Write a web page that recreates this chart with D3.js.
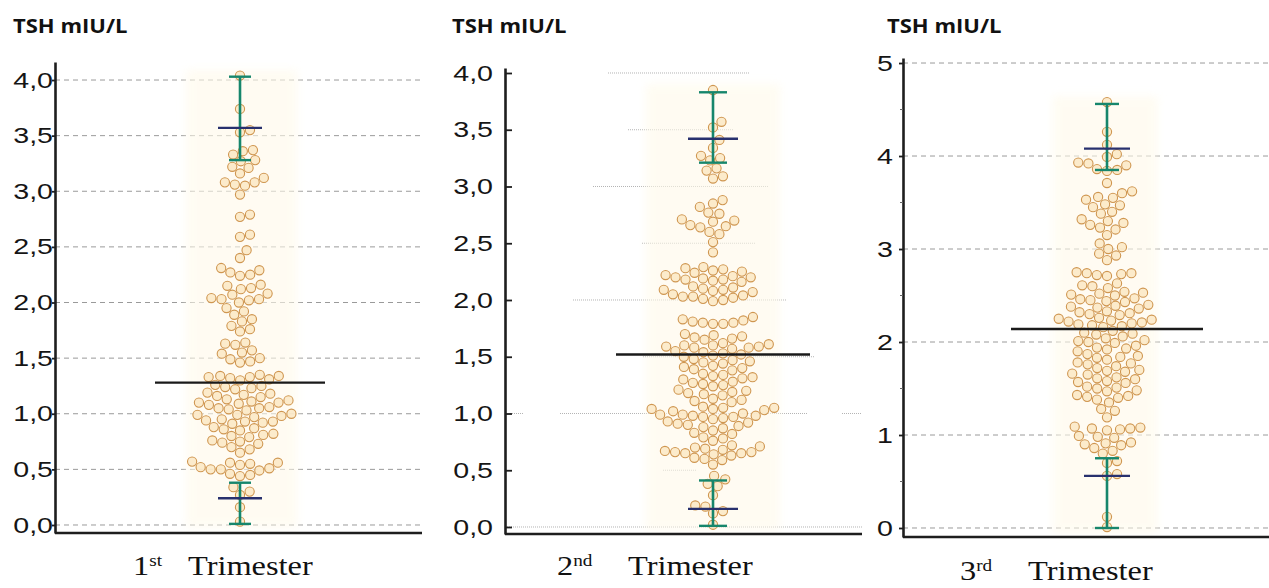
<!DOCTYPE html>
<html><head><meta charset="utf-8">
<script src="https://cdn.jsdelivr.net/npm/d3@7"></script>
<style>body{margin:0;background:#fff}svg{display:block}</style>
</head><body>
<svg id="chart" width="1269" height="588"></svg>
<script>
// ---------------- data ----------------
const trimesterNumbers = ["1", "2", "3"];
const trimesterSuffix = ["st", "nd", "rd"];
const axisTitle = "TSH mIU/L";

const tsh1 = [4.04, 3.74, 3.55, 3.53,
  3.37, 3.36, 3.33, 3.28, 3.27, 3.22, 3.21, 3.16, 3.12, 3.08, 3.08, 3.06, 3.05, 2.97,
  2.79, 2.77, 2.61, 2.59, 2.47, 2.40,
  2.31, 2.29, 2.27, 2.25, 2.24, 2.16, 2.15, 2.13, 2.12, 2.08, 2.07,
  2.04, 2.03, 2.03, 2.02, 2.00, 1.95, 1.92, 1.89, 1.85, 1.83, 1.79, 1.76, 1.74,
  1.64, 1.63, 1.62, 1.57, 1.55, 1.54, 1.50, 1.49, 1.47, 1.46,
  1.35, 1.34, 1.34, 1.33, 1.33, 1.32, 1.31, 1.30,
  1.26, 1.25, 1.24, 1.23, 1.22,
  1.19, 1.18, 1.17, 1.16, 1.15, 1.13,
  1.12, 1.11, 1.10, 1.10, 1.09, 1.08,
  1.06, 1.05, 1.05, 1.04, 1.03,
  1.00, 0.99, 0.99, 0.98, 0.97,
  0.95, 0.94, 0.93, 0.93, 0.92, 0.91,
  0.88, 0.87, 0.86, 0.85,
  0.82, 0.81, 0.80, 0.79,
  0.76, 0.75, 0.74, 0.73,
  0.70, 0.68, 0.65,
  0.57, 0.56, 0.56, 0.55, 0.54,
  0.52, 0.51, 0.50, 0.50, 0.49,
  0.46, 0.45, 0.44,
  0.34, 0.30, 0.27, 0.16, 0.03];

const tsh2 = [3.85, 3.57, 3.52, 3.41, 3.34, 3.27, 3.25, 3.23, 3.16, 3.14, 3.09, 3.07,
  2.88, 2.85, 2.82, 2.77, 2.76, 2.71, 2.70, 2.69, 2.66, 2.65, 2.64, 2.60, 2.58, 2.51, 2.42,
  2.29, 2.28, 2.27, 2.26, 2.25, 2.24, 2.22,
  2.21, 2.20, 2.20, 2.19, 2.18, 2.18, 2.17, 2.16,
  2.12, 2.11, 2.10, 2.09, 2.09, 2.08, 2.07,
  2.05, 2.04, 2.03, 2.03, 2.02, 2.01, 2.00, 1.99,
  1.85, 1.83, 1.82, 1.81, 1.80, 1.80, 1.79, 1.79,
  1.70, 1.69, 1.68, 1.67, 1.66, 1.65,
  1.62, 1.61, 1.60, 1.60, 1.59, 1.59, 1.58, 1.58, 1.57,
  1.55, 1.54, 1.53, 1.52, 1.51, 1.50,
  1.48, 1.47, 1.46, 1.45, 1.44,
  1.42, 1.41, 1.40, 1.39, 1.38,
  1.35, 1.34, 1.33, 1.32, 1.31, 1.30,
  1.28, 1.27, 1.26, 1.25, 1.24,
  1.21, 1.20, 1.19, 1.18, 1.17, 1.16,
  1.13, 1.12, 1.11, 1.10,
  1.06, 1.05, 1.05, 1.04, 1.04, 1.03, 1.02,
  1.00, 0.99, 0.99, 0.98, 0.98, 0.97, 0.97, 0.96, 0.95,
  0.93, 0.92, 0.91, 0.90, 0.89, 0.88, 0.87,
  0.85, 0.83, 0.82, 0.79, 0.78, 0.76, 0.72, 0.71, 0.70,
  0.69, 0.68, 0.67, 0.66, 0.66, 0.65, 0.65, 0.64, 0.63,
  0.61, 0.60, 0.59, 0.55,
  0.45, 0.42, 0.38, 0.36, 0.28, 0.19, 0.18, 0.14, 0.12, 0.02];

const tsh3 = [4.58, 4.26, 4.12, 4.02, 3.99, 3.93, 3.92, 3.90, 3.86, 3.85, 3.84,
  3.71, 3.62, 3.60, 3.56, 3.55, 3.53, 3.48, 3.47, 3.45, 3.40, 3.38, 3.32, 3.30, 3.28, 3.26,
  3.23, 3.21, 3.15, 3.06, 3.02, 3.00, 2.95, 2.93, 2.88,
  2.75, 2.74, 2.74, 2.73, 2.72, 2.71, 2.63, 2.61, 2.60, 2.58,
  2.54, 2.53, 2.52, 2.51, 2.50,
  2.47, 2.46, 2.45, 2.44, 2.43,
  2.40, 2.39, 2.38, 2.37, 2.36,
  2.33, 2.32, 2.31, 2.30, 2.29,
  2.26, 2.25, 2.24, 2.23,
  2.22, 2.21, 2.20, 2.19, 2.18, 2.17, 2.16,
  2.12, 2.10, 2.09, 2.08, 2.06,
  2.04, 2.02, 2.01, 2.00, 1.99,
  1.96, 1.94, 1.93, 1.92, 1.90,
  1.87, 1.85, 1.84, 1.83, 1.81,
  1.78, 1.77, 1.76, 1.74, 1.72,
  1.70, 1.69, 1.68, 1.66, 1.65,
  1.62, 1.61, 1.60, 1.58, 1.57, 1.56,
  1.52, 1.51, 1.50, 1.48, 1.47,
  1.43, 1.42, 1.41, 1.40, 1.38, 1.35,
  1.28, 1.26, 1.19,
  1.09, 1.08, 1.07, 1.07, 1.06, 1.05,
  0.99, 0.98, 0.97, 0.92, 0.91, 0.90, 0.89, 0.86, 0.83, 0.80,
  0.72, 0.70, 0.58, 0.56, 0.12, 0.01];

const means = [1.28, 1.52, 2.14];
const p025 = [0.24, 0.16, 0.56];
const p975 = [3.57, 3.42, 4.08];
const ciP025 = [[0.01, 0.38], [0.01, 0.41], [0.00, 0.75]];
const ciP975 = [[3.28, 4.03], [3.21, 3.83], [3.85, 4.56]];

const ticksHalf = [0, 0.5, 1, 1.5, 2, 2.5, 3, 3.5, 4];
const tickLabelsHalf = ["0,0", "0,5", "1,0", "1,5", "2,0", "2,5", "3,0", "3,5", "4,0"];
const ticksWhole = [0, 1, 2, 3, 4, 5];
const tickLabelsWhole = ["0", "1", "2", "3", "4", "5"];
const minorTicks3 = [0.5, 1.5, 2.5, 3.5, 4.5];

// ---------------- layout ----------------
const panels = [
  {values: tsh1, axisX: 55, right: 422, cx: 240, domain: [-0.072, 4.162], range: [533, 62],
   ticks: ticksHalf, labels: tickLabelsHalf, tickSize: 3, gap: 2, grid: "dashed",
   titleX: 13, labX: 133, labTX: 188, labY: 575, meanHW: 85, blueHW: 22, capHW: 11},
  {values: tsh2, axisX: 505, right: 862, cx: 713, domain: [-0.0617, 4.044], range: [534, 68],
   ticks: ticksHalf, labels: tickLabelsHalf, tickSize: -7, gap: 12, grid: "dotted",
   titleX: 452, labX: 557, labTX: 628, labY: 575, meanHW: 97, blueHW: 25, capHW: 14},
  {values: tsh3, axisX: 903, right: 1269, cx: 1107, domain: [-0.0968, 5.054], range: [537, 58],
   ticks: ticksWhole, labels: tickLabelsWhole, tickSize: 4, gap: 10, grid: "dashed",
   titleX: 887, labX: 960, labTX: 1028, labY: 580, meanHW: 96, blueHW: 23, capHW: 12}
];
// partial dotted gridlines of panel 2 (value, [x0,x1] segments)
const panel2Grid = [
  [4.0, [[608, 750]]], [3.5, [[628, 733]]], [3.0, [[593, 768]]], [2.5, [[642, 755]]],
  [2.0, [[573, 787]]], [1.5, [[643, 815]]], [1.0, [[510, 523], [560, 807], [842, 862]]],
  [0.5, [[663, 697]]], [0.0, [[505, 862]]]
];

const R = 4.6, D = 10.2;
const colStroke = "#cf9650", colFill = "#fbe7c4";
const colGreen = "#16866c", colBlue = "#28306e", colAxis = "#1e1e1e";

const svg = d3.select("#chart");
const defs = svg.append("defs");
defs.append("filter").attr("id", "blur").attr("x", "-50%").attr("y", "-20%")
  .attr("width", "200%").attr("height", "140%")
  .append("feGaussianBlur").attr("stdDeviation", 4);

function swarm(values, y) {
  const pts = values.map(v => ({v, y: y(v), x: 0})).sort((a, b) => a.v - b.v);
  const placed = [];
  for (const p of pts) {
    const near = placed.filter(q => Math.abs(q.y - p.y) < D);
    const cands = [0];
    for (const q of near) {
      const dx = Math.sqrt(D * D - (q.y - p.y) ** 2);
      cands.push(q.x + dx + 0.01, q.x - dx - 0.01);
    }
    cands.sort((a, b) => Math.abs(a) - Math.abs(b));
    for (const c of cands) {
      if (near.every(q => (q.x - c) ** 2 + (q.y - p.y) ** 2 >= D * D - 0.05)) { p.x = c; break; }
    }
    placed.push(p);
  }
  return pts;
}

panels.forEach((P, i) => {
  const y = d3.scaleLinear().domain(P.domain).range(P.range);
  const g = svg.append("g");

  // gridlines
  if (P.grid === "dashed") {
    g.append("g").selectAll("line").data(P.ticks).join("line")
      .attr("x1", P.axisX).attr("x2", P.right)
      .attr("y1", d => y(d)).attr("y2", d => y(d))
      .attr("stroke", "#9a9a9a").attr("stroke-width", 1).attr("stroke-dasharray", "5,4");
  } else {
    const segs = panel2Grid.flatMap(([v, s]) => s.map(x => ({v, x0: x[0], x1: x[1]})));
    g.append("g").selectAll("line").data(segs).join("line")
      .attr("x1", d => d.x0).attr("x2", d => d.x1)
      .attr("y1", d => y(d.v)).attr("y2", d => y(d.v))
      .attr("stroke", "#b4b4b4").attr("stroke-width", 1).attr("stroke-dasharray", "1,1");
  }

  // swarm
  const pts = swarm(P.values, y);
  const ext = d3.extent(pts, p => p.x);
  const yExt = d3.extent(pts, p => p.y);
  g.append("rect")
    .attr("x", P.cx + ext[0] - 6).attr("width", ext[1] - ext[0] + 12)
    .attr("y", yExt[0] - 6).attr("height", yExt[1] - yExt[0] + 12)
    .attr("fill", "#fffaea").attr("opacity", 0.6).attr("filter", "url(#blur)");
  g.append("g").selectAll("circle").data(pts).join("circle")
    .attr("cx", d => P.cx + d.x).attr("cy", d => d.y).attr("r", R)
    .attr("fill", colFill).attr("fill-opacity", 0.85)
    .attr("stroke", colStroke).attr("stroke-width", 1.1);

  // x axis baseline
  g.append("line").attr("x1", P.axisX).attr("x2", P.right)
    .attr("y1", P.range[0]).attr("y2", P.range[0])
    .attr("stroke", colAxis).attr("stroke-width", 2.6);

  // y axis
  const ax = d3.axisLeft(y).tickValues(P.ticks)
    .tickFormat((d, k) => P.labels[k]).tickSizeInner(P.tickSize).tickSizeOuter(0).tickPadding(P.gap);
  const ag = g.append("g").attr("transform", `translate(${P.axisX},0)`).call(ax);
  ag.select(".domain").attr("stroke", colAxis).attr("stroke-width", 2.6);
  ag.selectAll(".tick line").attr("stroke", colAxis).attr("stroke-width", 1.8);
  ag.selectAll(".tick text")
    .attr("font-family", "Liberation Sans, Arial, sans-serif").attr("font-size", 22)
    .attr("fill", "#151515")
    .attr("x", -P.gap / 1.3).attr("transform", "scale(1.3,1)");
  if (i === 2) {
    g.append("g").selectAll("line").data(minorTicks3).join("line")
      .attr("x1", P.axisX - 3).attr("x2", P.axisX)
      .attr("y1", d => y(d)).attr("y2", d => y(d))
      .attr("stroke", "#666").attr("stroke-width", 1);
  }

  // mean line
  g.append("line").attr("x1", P.cx - P.meanHW).attr("x2", P.cx + P.meanHW)
    .attr("y1", y(means[i])).attr("y2", y(means[i]))
    .attr("stroke", "#1a1a1a").attr("stroke-width", 2.4);

  // confidence intervals of percentiles (green)
  [ciP025[i], ciP975[i]].forEach(ci => {
    g.append("line").attr("x1", P.cx).attr("x2", P.cx)
      .attr("y1", y(ci[0])).attr("y2", y(ci[1]))
      .attr("stroke", colGreen).attr("stroke-width", 2.6);
    ci.forEach(v => g.append("line").attr("x1", P.cx - P.capHW).attr("x2", P.cx + P.capHW)
      .attr("y1", y(v)).attr("y2", y(v)).attr("stroke", colGreen).attr("stroke-width", 2.4));
  });
  // percentile lines (blue)
  [p025[i], p975[i]].forEach(v => {
    g.append("line").attr("x1", P.cx - P.blueHW).attr("x2", P.cx + P.blueHW)
      .attr("y1", y(v)).attr("y2", y(v))
      .attr("stroke", colBlue).attr("stroke-width", 2.4);
  });

  // title
  g.append("text").attr("transform", `translate(${P.titleX},33) scale(1.1,1)`)
    .attr("font-family", "Open Sans, sans-serif").attr("font-weight", 700)
    .attr("font-size", 20).attr("fill", "#111").text(axisTitle);

  // x label
  const t = g.append("text").attr("transform", `translate(${P.labX},${P.labY}) scale(1.2,1)`)
    .attr("font-family", "Liberation Serif, Times New Roman, serif").attr("font-size", 27).attr("fill", "#111");
  t.append("tspan").text(trimesterNumbers[i]);
  t.append("tspan").attr("font-size", 16).attr("dy", -9).text(trimesterSuffix[i]);
  t.append("tspan").attr("x", (P.labTX - P.labX) / 1.2).attr("dy", 9).text("Trimester");
});
</script>
</body></html>
